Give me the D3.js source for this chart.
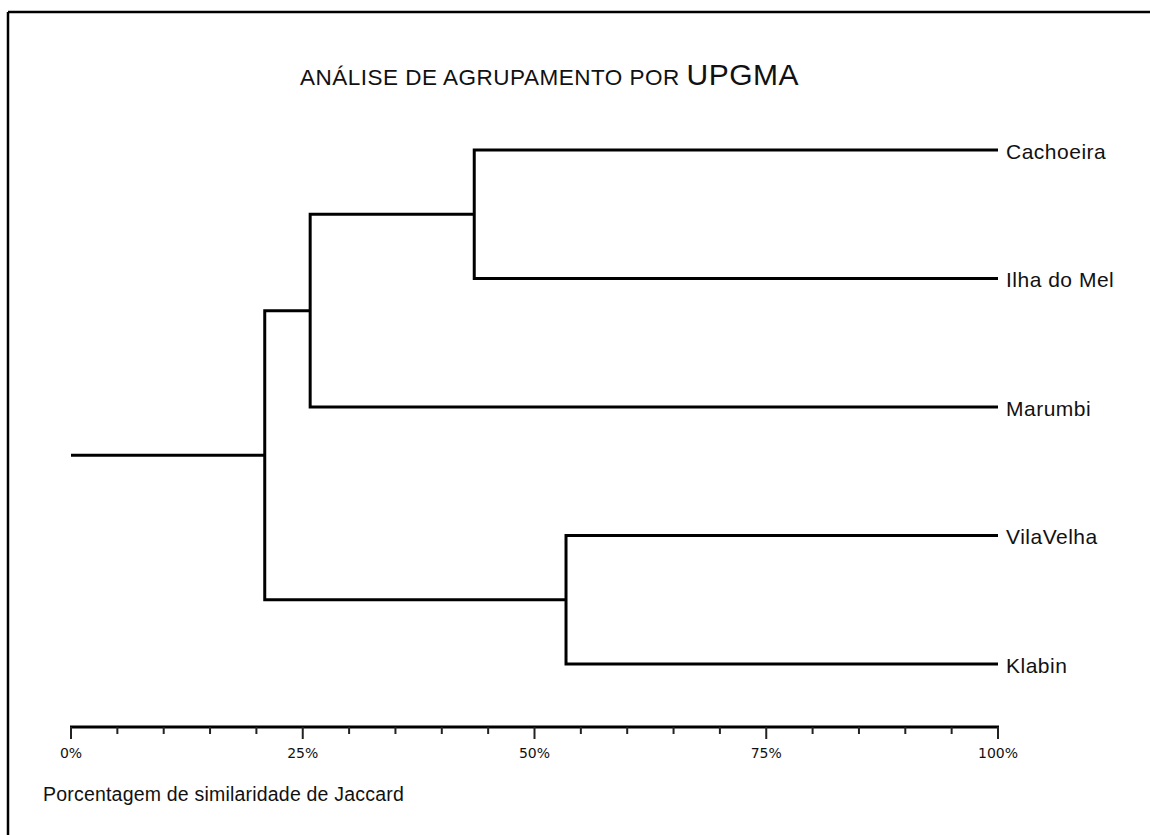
<!DOCTYPE html>
<html>
<head>
<meta charset="utf-8">
<script src="https://cdn.jsdelivr.net/npm/d3@7"></script>
<style>
  html, body { margin: 0; padding: 0; background: #fff; }
  svg { display: block; }
</style>
</head>
<body>
<svg id="chart" width="1150" height="835"></svg>
<script>
// ---- Data ----
const leaves = ["Cachoeira", "Ilha do Mel", "Marumbi", "VilaVelha", "Klabin"];
const clusterNames = ["A", "B", "C", "ROOT"];
const clusterChildren = [["Cachoeira", "Ilha do Mel"], ["A", "Marumbi"], ["VilaVelha", "Klabin"], ["B", "C"]];
const clusterSims = [43.5, 25.8, 53.4, 20.9];   // % similarity at which clusters join
const leafSim = 100;
const majorTicks = [0, 25, 50, 75, 100];
const minorTicks = d3.range(0, 101, 5);
const titleMain = "ANÁLISE DE AGRUPAMENTO POR ";
const titleEnd = "UPGMA";
const axisTitle = "Porcentagem de similaridade de Jaccard";

// ---- Setup ----
const svg = d3.select("#chart");
const x = d3.scaleLinear().domain([0, 100]).range([71, 998]);
const y = d3.scalePoint().domain(leaves).range([150, 664]);

// frame (top and left visible)
svg.append("line").attr("x1", 8).attr("x2", 1150).attr("y1", 12).attr("y2", 12)
  .attr("stroke", "#000").attr("stroke-width", 2.5);
svg.append("line").attr("x1", 8).attr("x2", 8).attr("y1", 12).attr("y2", 835)
  .attr("stroke", "#000").attr("stroke-width", 2.5);

// title
const t = svg.append("text").attr("x", 300).attr("y", 85)
  .attr("font-family", "Liberation Sans, Arial, sans-serif").attr("fill", "#111")
  .attr("letter-spacing", 0.5);
t.append("tspan").attr("font-size", 22.5).text(titleMain);
t.append("tspan").attr("font-size", 30).text(titleEnd);

// ---- Build hierarchy ----
const pos = {};
leaves.forEach(l => { pos[l] = { x: x(leafSim), y: y(l) }; });
const g = svg.append("g").attr("stroke", "#000").attr("stroke-width", 3).attr("fill", "none");
clusterNames.forEach((name, i) => {
  const [c1, c2] = clusterChildren[i];
  const nx = x(clusterSims[i]);
  const p1 = pos[c1], p2 = pos[c2];
  const ny = (p1.y + p2.y) / 2;
  pos[name] = { x: nx, y: ny };
  const path = d3.path();
  path.moveTo(p1.x, p1.y); path.lineTo(nx, p1.y); path.lineTo(nx, p2.y); path.lineTo(p2.x, p2.y);
  g.append("path").attr("d", path.toString()).attr("stroke-linecap", "butt").attr("stroke-linejoin", "miter");
});
// root stem
const root = pos["ROOT"];
g.append("line").attr("x1", x(0)).attr("x2", root.x).attr("y1", root.y).attr("y2", root.y)
  .attr("stroke-linecap", "butt");

// leaf labels
svg.append("g").selectAll("text").data(leaves).join("text")
  .attr("x", x(leafSim) + 8).attr("y", d => y(d)).attr("dy", "0.42em")
  .attr("font-family", "Liberation Sans, Arial, sans-serif").attr("font-size", 21)
  .attr("letter-spacing", 0.5)
  .attr("fill", "#111").text(d => d);

// ---- Axis ----
const axisY = 727;
svg.append("line").attr("x1", x(0) - 1).attr("x2", x(100) + 1).attr("y1", axisY).attr("y2", axisY)
  .attr("stroke", "#000").attr("stroke-width", 3);
svg.append("g").selectAll("line").data(minorTicks).join("line")
  .attr("x1", d => x(d)).attr("x2", d => x(d))
  .attr("y1", axisY).attr("y2", d => majorTicks.includes(d) ? axisY + 12 : axisY + 7)
  .attr("stroke", "#222").attr("stroke-width", 2);
svg.append("g").selectAll("text").data(majorTicks).join("text")
  .attr("x", d => x(d)).attr("y", 758).attr("text-anchor", "middle")
  .attr("font-family", "DejaVu Sans, sans-serif").attr("font-size", 14)
  .attr("fill", "#111").text(d => d + "%");

svg.append("text").attr("x", 43).attr("y", 801)
  .attr("font-family", "Liberation Sans, Arial, sans-serif").attr("font-size", 19.5)
  .attr("letter-spacing", 0.2)
  .attr("fill", "#111").text(axisTitle);
</script>
</body>
</html>
